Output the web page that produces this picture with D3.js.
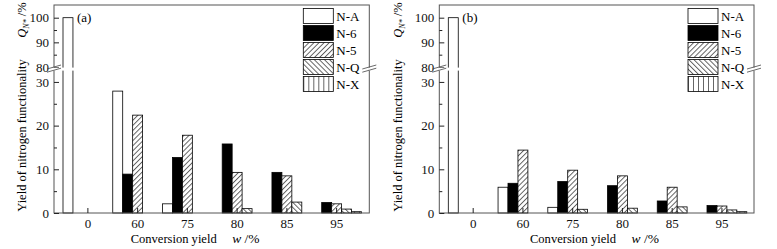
<!DOCTYPE html>
<html>
<head>
<meta charset="utf-8">
<script src="https://cdn.jsdelivr.net/npm/d3@7/dist/d3.min.js"></script>
<style>
  body { margin: 0; background: #fff; }
  svg { display: block; font-family: "Liberation Serif", "Times New Roman", serif; }
</style>
</head>
<body>
<svg id="chart" width="777" height="249"></svg>
<script>
var categories = ["0", "60", "75", "80", "85", "95"];
var seriesNames = ["N-A", "N-6", "N-5", "N-Q", "N-X"];
var lowTicks = [0, 10, 20, 30], lowMinor = [5, 15, 25];
var highTicks = [80, 90, 100], highMinor = [85, 95];

// panel (a)
var a_NA = [100, 27.9, 2.1, 0, 0, 0];
var a_N6 = [0, 8.9, 12.7, 15.8, 9.3, 2.4];
var a_N5 = [0, 22.4, 17.8, 9.3, 8.5, 2.1];
var a_NQ = [0, 0, 0, 1.0, 2.5, 0.9];
var a_NX = [0, 0, 0, 0, 0, 0.3];

// panel (b)
var b_NA = [100, 5.9, 1.3, 0, 0, 0];
var b_N6 = [0, 6.8, 7.2, 6.25, 2.75, 1.7];
var b_N5 = [0, 14.4, 9.8, 8.5, 5.9, 1.6];
var b_NQ = [0, 0, 0.85, 1.1, 1.4, 0.7];
var b_NX = [0, 0, 0, 0, 0, 0.3];

var svg = d3.select("#chart");
var defs = svg.append("defs");

function hatch(id, width, angle) {
    var p = defs.append("pattern")
        .attr("id", id)
        .attr("patternUnits", "userSpaceOnUse")
        .attr("width", width).attr("height", width)
        .attr("patternTransform", "rotate(" + angle + ")");
    p.append("rect").attr("width", width).attr("height", width).attr("fill", "#fff");
    p.append("line")
        .attr("x1", 0.5).attr("y1", 0).attr("x2", 0.5).attr("y2", width)
        .attr("stroke", "#333").attr("stroke-width", 0.75);
}
hatch("pN5", 3.6, 45);
hatch("pNQ", 3.6, -45);
hatch("pNX", 5, 0);

var fills = {"N-A": "#fff", "N-6": "#000", "N-5": "url(#pN5)", "N-Q": "url(#pNQ)", "N-X": "url(#pNX)"};

function drawPanel(left, right, tag, series, xl, yl) {
    var top = 5, bottom = 213;
    var g = svg.append("g").attr("transform", "translate(" + left + "," + top + ")");
    var w = right - left, h = bottom - top;

    var x0 = d3.scaleBand().domain(categories).range([9, 307.5]).padding(0);
    var x1 = d3.scaleBand().domain(seriesNames).range([0, x0.bandwidth()]).padding(0);
    var yLow = d3.scaleLinear().domain([0, 32.5]).range([h, 66]);
    var yHigh = d3.scaleLinear().domain([80, 105.15]).range([62, 0]);
    var y = function (v) { return v > 32.5 ? yHigh(v) : yLow(v); };

    var rows = [];
    categories.forEach(function (c, i) {
        seriesNames.forEach(function (s, j) {
            if (series[j][i] > 0) rows.push({cat: c, name: s, value: series[j][i]});
        });
    });

    g.selectAll(".bar")
        .data(rows)
        .enter().append("rect")
        .attr("class", "bar")
        .attr("x", function (d) { return x0(d.cat) + x1(d.name); })
        .attr("y", function (d) { return y(d.value); })
        .attr("width", x1.bandwidth())
        .attr("height", function (d) { return h - y(d.value); })
        .style("fill", function (d) { return fills[d.name]; })
        .style("stroke", "#000")
        .style("stroke-width", 0.8);

    // frame
    g.append("rect")
        .attr("width", w).attr("height", h)
        .style("fill", "none").style("stroke", "#555").style("stroke-width", 1);

    // y axes (two segments, ticks pointing inward)
    function yAxis(scale, ticks, size, labels) {
        var ax = d3.axisLeft(scale).tickValues(ticks).tickSize(-size).tickPadding(5);
        if (!labels) ax.tickFormat("");
        var a = g.append("g").call(ax);
        a.select(".domain").remove();
        a.selectAll("line").attr("stroke", "#222");
        a.selectAll("text").style("font-size", "13px").style("font-family", "Liberation Serif").attr("fill", "#111");
    }
    yAxis(yLow, lowTicks, 5, true);
    yAxis(yLow, lowMinor, 3, false);
    yAxis(yHigh, highTicks, 5, true);
    yAxis(yHigh, highMinor, 3, false);

    var xa = g.append("g")
        .attr("transform", "translate(0," + h + ")")
        .call(d3.axisBottom(x0).tickSize(-5).tickPadding(6));
    xa.select(".domain").remove();
    xa.selectAll("line").attr("stroke", "#222");
    xa.selectAll("text").style("font-size", "13px").style("font-family", "Liberation Serif").attr("fill", "#111");

    // axis breaks
    g.append("rect").attr("x", -1).attr("y", 62.6).attr("width", 22).attr("height", 3)
        .style("fill", "#fff");
    g.append("rect").attr("x", w - 1).attr("y", 62.6).attr("width", 2).attr("height", 3)
        .style("fill", "#fff");
    [0, w].forEach(function (bx) {
        [0, 3.2].forEach(function (dy) {
            g.append("line")
                .attr("x1", bx - 7).attr("y1", 64 + dy)
                .attr("x2", bx + 7).attr("y2", 60 + dy)
                .attr("stroke", "#444").attr("stroke-width", 0.8);
        });
    });

    // legend
    var leg = g.selectAll(".legend")
        .data(seriesNames)
        .enter().append("g")
        .attr("class", "legend")
        .attr("transform", function (d, i) { return "translate(" + (w - 66) + "," + (3.5 + i * 17) + ")"; });
    leg.append("rect")
        .attr("width", 30).attr("height", 15)
        .style("fill", function (d) { return fills[d]; })
        .style("stroke", "#000").style("stroke-width", 0.8);
    leg.append("text")
        .attr("x", 33).attr("y", 12)
        .style("font-size", "13px")
        .text(function (d) { return d; });

    g.append("text").attr("x", 23).attr("y", 17).style("font-size", "13px").text(tag);

    // axis titles
    g.append("text")
        .attr("x", xl).attr("y", h + 30)
        .attr("textLength", 86).attr("lengthAdjust", "spacingAndGlyphs")
        .style("font-size", "13.5px")
        .text("Conversion yield");
    var xt = g.append("text").attr("x", xl + 101.5).attr("y", h + 30).style("font-size", "13.5px");
    xt.append("tspan").style("font-style", "italic").text("w");
    xt.append("tspan").text(" /%");

    g.append("text")
        .attr("transform", "rotate(-90)")
        .attr("x", -130.5).attr("y", yl)
        .attr("text-anchor", "middle")
        .style("font-size", "12.5px")
        .text("Yield of nitrogen functionality");

    var q = g.append("text")
        .attr("transform", "rotate(-90)")
        .attr("x", -15).attr("y", yl)
        .attr("text-anchor", "middle")
        .style("font-size", "12.5px");
    q.append("tspan").style("font-style", "italic").text("Q");
    q.append("tspan").attr("dy", 3).style("font-size", "8px").style("font-style", "italic").text("N*");
    q.append("tspan").attr("dy", -3).text(" /%");
}

drawPanel(54, 369.3, "(a)", [a_NA, a_N6, a_N5, a_NQ, a_NX], 76.7, -28);
drawPanel(439.3, 754, "(b)", [b_NA, b_N6, b_N5, b_NQ, b_NX], 90.7, -37.5);
</script>
</body>
</html>
